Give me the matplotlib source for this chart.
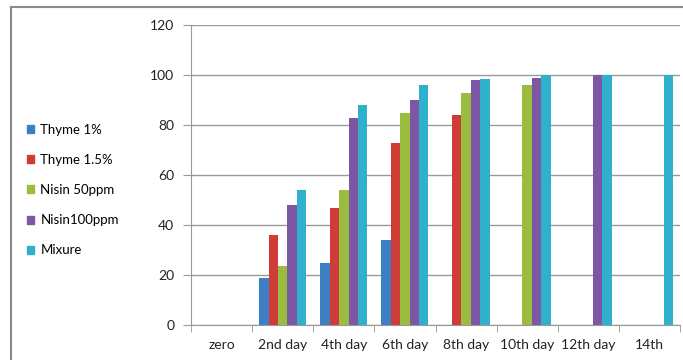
import matplotlib
matplotlib.use("Agg")
import matplotlib.pyplot as plt
from matplotlib.lines import Line2D
from matplotlib.patches import Patch
import numpy as np

days = ["zero", "2nd day", "4th day", "6th day", "8th day", "10th day", "12th day", "14th"]
series_names = ["Thyme 1%", "Thyme 1.5%", "Nisin 50ppm", "Nisin100ppm", "Mixure"]
thyme_1 = [0, 19, 25, 34, 0, 0, 0, 0]
thyme_15 = [0, 36, 47, 73, 84, 0, 0, 0]
nisin_50 = [0, 23.5, 54, 85, 93, 96, 0, 0]
nisin_100 = [0, 48, 83, 90, 98, 99, 100, 0]
mixure = [0, 54, 88, 96, 98.5, 100, 100, 100]
yticks = [0, 20, 40, 60, 80, 100, 120]

colors = ["#3d7fc4", "#cf3b37", "#9bbd3f", "#7d57a3", "#2fb0cc"]
series = [thyme_1, thyme_15, nisin_50, nisin_100, mixure]

plt.rcParams["font.family"] = ["Lato", "DejaVu Sans"]

fig = plt.figure(figsize=(6.83, 3.6), dpi=100)
ax = fig.add_axes([191 / 683, 35 / 360, 489 / 683, 300 / 360])

x = np.arange(len(days))
w = 1 / 6.5
for i, (vals, col) in enumerate(zip(series, colors)):
    ax.bar(x + (i - 2) * w, vals, width=w, color=col, linewidth=0)

ax.set_xlim(-0.5, len(days) - 0.5)
ax.set_ylim(0, 120)
ax.set_yticks(yticks)
ax.set_yticklabels([str(v) for v in yticks], fontsize=10, color="#222222")
ax.set_xticks(x)
ax.set_xticklabels(days, fontsize=10, color="#222222")
ax.set_xticks(np.arange(-0.5, len(days), 1), minor=True)
ax.tick_params(axis="x", which="major", length=0, pad=10)
ax.tick_params(axis="x", which="minor", length=5, color="#999999", direction="out")
ax.tick_params(axis="y", length=6, color="#999999", pad=6)
ax.yaxis.grid(True, color="#9a9a9a", linewidth=1)
ax.set_axisbelow(True)
for side in ["top", "right"]:
    ax.spines[side].set_visible(False)
for side in ["left", "bottom"]:
    ax.spines[side].set_color("#999999")

handles = [Patch(color=c, label=n) for c, n in zip(colors, series_names)]
fig.legend(handles=handles, loc="upper left", bbox_to_anchor=(20 / 683, 1 - 117 / 360),
           frameon=False, fontsize=9.5, handlelength=0.55, handleheight=0.55,
           handletextpad=0.5, labelspacing=1.38, borderpad=0)

fig.add_artist(Line2D([11 / 683, 11 / 683], [0, 1 - 7 / 360], color="#8a8a8a", linewidth=1.5))
fig.add_artist(Line2D([11 / 683, 1], [1 - 7 / 360, 1 - 7 / 360], color="#8a8a8a", linewidth=1.5))

fig.savefig("out.png", dpi=100)
